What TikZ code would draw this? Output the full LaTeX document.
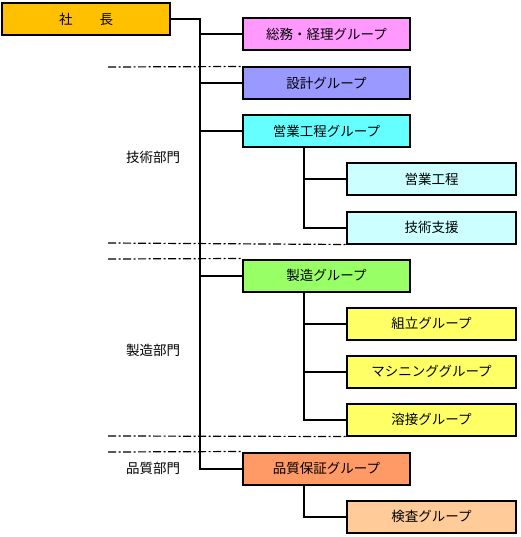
\documentclass[tikz,border=0pt]{standalone}
\usepackage{fontspec}
\setmainfont{Noto Sans CJK JP}
\begin{document}
\begin{tikzpicture}[x=1pt,y=-1pt,
  box/.style={draw=black,line width=2pt,rectangle,inner sep=0pt,minimum height=32pt,font=\fontsize{13.5}{16}\selectfont},
  lone/.style={box,minimum width=167pt},
  ltwo/.style={box,minimum width=169pt},
  conn/.style={line width=2pt},
  dd/.style={line width=1.2pt,dash pattern=on 8pt off 2.5pt on 2pt off 2.5pt},
  dept/.style={font=\fontsize{13.5}{16}\selectfont,inner sep=0pt}]
\useasboundingbox (0,0) rectangle (520,537);
\definecolor{cpres}{HTML}{FFC000}
\definecolor{cpink}{HTML}{FF99FF}
\definecolor{cblue}{HTML}{9999FF}
\definecolor{ccyan}{HTML}{66FFFF}
\definecolor{clcyan}{HTML}{CCFFFF}
\definecolor{cgreen}{HTML}{99FF66}
\definecolor{cyel}{HTML}{FFFF66}
\definecolor{corange}{HTML}{FF9966}
\definecolor{cpeach}{HTML}{FFCC99}

\node[box,minimum width=168pt,fill=cpres] (pres) at (86,19) {社　　長};
\node[lone,fill=cpink] (soumu) at (326.5,34.5) {総務・経理グループ};
\node[lone,fill=cblue] (sekkei) at (326.5,83.5) {設計グループ};
\node[lone,fill=ccyan] (eigyo) at (326.5,131.5) {営業工程グループ};
\node[ltwo,fill=clcyan] (eigyokotei) at (431.5,179.5) {営業工程};
\node[ltwo,fill=clcyan] (gijutsu) at (431.5,227.5) {技術支援};
\node[lone,fill=cgreen] (seizo) at (326.5,275.5) {製造グループ};
\node[ltwo,fill=cyel] (kumitate) at (431.5,323.5) {組立グループ};
\node[ltwo,fill=cyel] (machining) at (431.5,371.5) {マシニンググループ};
\node[ltwo,fill=cyel] (yousetsu) at (431.5,419.5) {溶接グループ};
\node[lone,fill=corange] (hinshitsu) at (326.5,468.5) {品質保証グループ};
\node[ltwo,fill=cpeach] (kensa) at (431.5,516.5) {検査グループ};

\node[dept] (dgijutsu) at (153,157) {技術部門};
\node[dept] (dseizo) at (153,350) {製造部門};
\node[dept] (dhin) at (153,468) {品質部門};

\coordinate (trunk) at (200,0);
\coordinate (sub) at (304,0);

% trunk
\draw[conn] (pres.east) -| (trunk |- hinshitsu.west) -- (hinshitsu.west);
\foreach \n in {soumu,sekkei,eigyo,seizo}
  \draw[conn] (trunk |- \n.west) -- (\n.west);
% sub trunks
\draw[conn] (eigyo.south -| sub) |- (gijutsu.west);
\draw[conn] (sub |- eigyokotei.west) -- (eigyokotei.west);
\draw[conn] (seizo.south -| sub) |- (yousetsu.west);
\foreach \n in {kumitate,machining}
  \draw[conn] (sub |- \n.west) -- (\n.west);
\draw[conn] (hinshitsu.south -| sub) |- (kensa.west);

% department separators
\coordinate (s1) at (108,67);
\coordinate (s2) at (108,243);
\coordinate (s3) at (108,259);
\coordinate (s4) at (108,436);
\coordinate (s5) at (108,452);
\draw[dd] (s1) -- (sekkei.north west);
\draw[dd] (s2) -- (gijutsu.south west);
\draw[dd] (s3) -- (seizo.north west);
\draw[dd] (s4) -- (yousetsu.south west);
\draw[dd] (s5) -- (hinshitsu.north west);
\end{tikzpicture}
\end{document}
